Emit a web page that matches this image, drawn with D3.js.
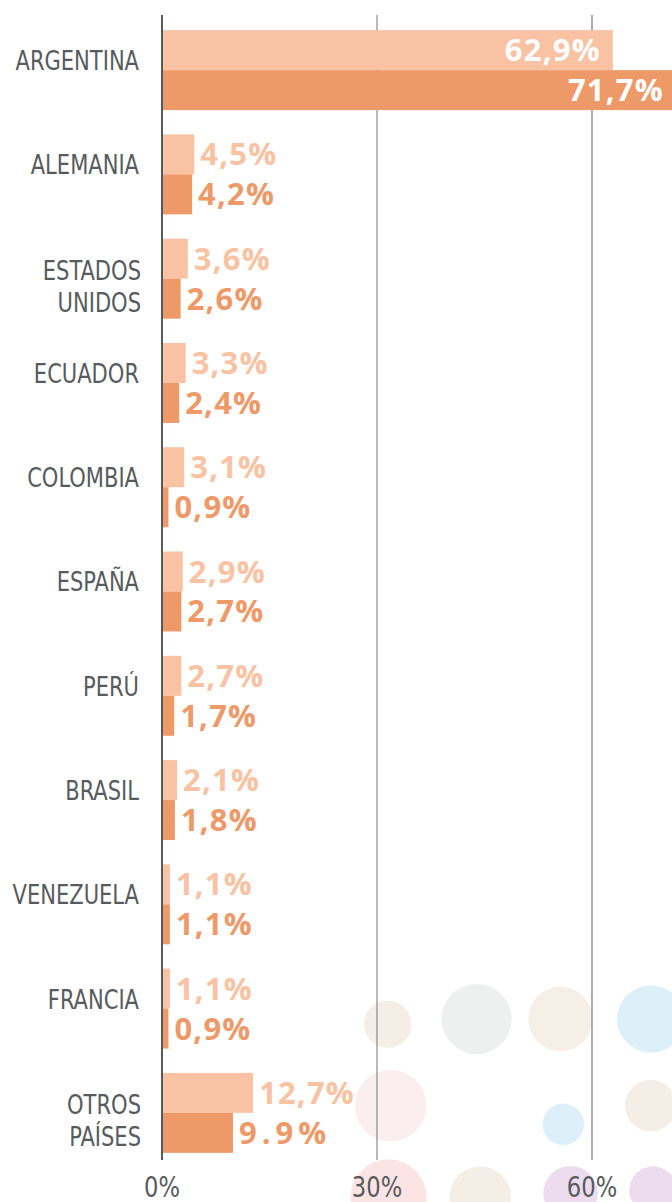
<!DOCTYPE html>
<html>
<head>
<meta charset="utf-8">
<script src="https://cdn.jsdelivr.net/npm/d3@7"></script>
<style>
  html, body { margin: 0; padding: 0; background: #ffffff; overflow: hidden; }
  svg { display: block; }
</style>
</head>
<body>
<div id="chart"></div>
<script>
// Country names (multi-line names split with "|")
const countries = ["ARGENTINA", "ALEMANIA", "ESTADOS|UNIDOS", "ECUADOR", "COLOMBIA",
  "ESPAÑA", "PERÚ", "BRASIL", "VENEZUELA", "FRANCIA", "OTROS|PAÍSES"];

// First series (light) and second series (dark), in percent
const seriesA = [62.9, 4.5, 3.6, 3.3, 3.1, 2.9, 2.7, 2.1, 1.1, 1.1, 12.7];
const seriesB = [71.7, 4.2, 2.6, 2.4, 0.9, 2.7, 1.7, 1.8, 1.1, 0.9, 9.9];

// Labels as printed next to each bar
const labelsA = ["62,9%", "4,5%", "3,6%", "3,3%", "3,1%", "2,9%", "2,7%", "2,1%", "1,1%", "1,1%", "12,7%"];
const labelsB = ["71,7%", "4,2%", "2,6%", "2,4%", "0,9%", "2,7%", "1,7%", "1,8%", "1,1%", "0,9%", "9.9%"];

// Axis ticks
const tickValues = [0, 30, 60];
const tickLabels = ["0%", "30%", "60%"];

// Decorative background bubbles: x in percent, y in row units, radius in percent units
const bubbleX   = [31.5, 43.9, 55.6, 68.2, 31.9, 56.0, 68.2, 31.6, 44.4, 57.0, 68.5];
const bubbleRow = [9.15, 9.10, 9.10, 9.10, 9.93, 10.11, 9.93, 10.81, 10.81, 10.77, 10.74];
const bubbleR   = [3.3, 4.9, 4.5, 4.7, 5.0, 2.9, 3.6, 5.3, 4.3, 3.8, 3.3];
const bubbleFill = ["#f5eee7", "#eef0ef", "#f6efe8", "#ddf0f9", "#fbeef1", "#ddf0f9",
  "#f5eee7", "#fce4e4", "#f5eee7", "#eddcee", "#eddcee"];

const W = 672, H = 1202;
const colorA = "#f8c2a3";
const colorB = "#ee9968";
const textGray = "#575b5e";
const labelFont = "'DejaVu Sans Condensed', 'Liberation Sans Narrow', sans-serif";
const valueFont = "'Open Sans', 'DejaVu Sans', sans-serif";
const labelSquash = 0.9;

const svg = d3.select("#chart").append("svg")
  .attr("width", W).attr("height", H);

const x = d3.scaleLinear().domain([0, 30]).range([162, 377]);

const y = d3.scaleBand()
  .domain(countries)
  .range([18, 1165])
  .paddingInner(0.233)
  .paddingOuter(0.1165);

const half = y.bandwidth() / 2;
// row index -> center of that row
const yRow = d3.scaleLinear().domain([0, 1])
  .range([y(countries[0]) + half, y(countries[1]) + half]);
const pxPerUnit = x(1) - x(0);

// Background bubbles
svg.append("g").selectAll("circle")
  .data(bubbleX.map((v, i) => ({ x: v, row: bubbleRow[i], r: bubbleR[i], fill: bubbleFill[i] })))
  .join("circle")
  .attr("cx", d => x(d.x))
  .attr("cy", d => yRow(d.row))
  .attr("r", d => d.r * pxPerUnit)
  .attr("fill", d => d.fill);

// Vertical grid lines
const gridTop = 15, gridBottom = 1160;
svg.append("g").selectAll("line")
  .data(tickValues.slice(1))
  .join("line")
  .attr("x1", d => x(d)).attr("x2", d => x(d))
  .attr("y1", gridTop).attr("y2", gridBottom)
  .attr("stroke", (d, i) => i === 0 ? "#8a8a8a" : "#ababab")
  .attr("stroke-width", (d, i) => i === 0 ? 1.2 : 2);

// Bars
const rows = countries.map((c, i) => ({ c, a: seriesA[i], b: seriesB[i], la: labelsA[i], lb: labelsB[i] }));
const g = svg.append("g");

g.selectAll("rect.a").data(rows).join("rect")
  .attr("class", "a")
  .attr("x", x(0))
  .attr("y", d => y(d.c))
  .attr("width", d => x(d.a) - x(0))
  .attr("height", half)
  .attr("fill", colorA);

g.selectAll("rect.b").data(rows).join("rect")
  .attr("class", "b")
  .attr("x", x(0))
  .attr("y", d => y(d.c) + half)
  .attr("width", d => x(d.b) - x(0))
  .attr("height", half)
  .attr("fill", colorB);

// Zero axis line
svg.append("line")
  .attr("x1", x(0)).attr("x2", x(0))
  .attr("y1", gridTop).attr("y2", gridBottom)
  .attr("stroke", "#555a5d").attr("stroke-width", 2);

// Value labels: inside (white) for long bars, outside otherwise
const insideLimit = 30;
function valueLabel(sel, key, labelKey, color, offset) {
  sel.join("text")
    .attr("x", d => d[key] > insideLimit ? Math.min(x(d[key]) - 12, W - 5) : x(d[key]) + 6)
    .attr("y", d => y(d.c) + offset + half / 2 + 11)
    .attr("text-anchor", d => d[key] > insideLimit ? "end" : "start")
    .attr("fill", d => d[key] > insideLimit ? "#ffffff" : color)
    .style("font-family", valueFont)
    .style("font-weight", 700)
    .style("font-size", "31px")
    .style("letter-spacing", d => d[labelKey].includes(".") ? "5px" : "1.2px")
    .text(d => d[labelKey]);
}
valueLabel(svg.append("g").selectAll("text").data(rows), "a", "la", colorA, 0);
valueLabel(svg.append("g").selectAll("text").data(rows), "b", "lb", colorB, half);

// Country labels (horizontally condensed)
const catG = svg.append("g");
rows.forEach(d => {
  const lines = d.c.split("|");
  const cy = y(d.c) + half;
  const t = catG.append("text")
    .attr("text-anchor", "end")
    .attr("transform", `translate(${lines.length === 1 ? 139 : 141},0) scale(${labelSquash},1)`)
    .attr("fill", textGray)
    .style("font-family", labelFont)
    .style("font-size", "26px");
  if (lines.length === 1) {
    t.append("tspan").attr("x", 0).attr("y", cy + 0).text(lines[0]);
  } else {
    lines.forEach((ln, j) => {
      t.append("tspan").attr("x", 0).attr("y", cy + 1 + j * 32).text(ln);
    });
  }
});

// Bottom tick labels
svg.append("g").selectAll("text")
  .data(tickValues)
  .join("text")
  .attr("transform", d => `translate(${x(d)},0) scale(${labelSquash},1)`)
  .attr("x", 0)
  .attr("y", 1197)
  .attr("text-anchor", "middle")
  .attr("fill", textGray)
  .style("font-family", labelFont)
  .style("font-size", "28px")
  .text((d, i) => tickLabels[i]);
</script>
</body>
</html>
